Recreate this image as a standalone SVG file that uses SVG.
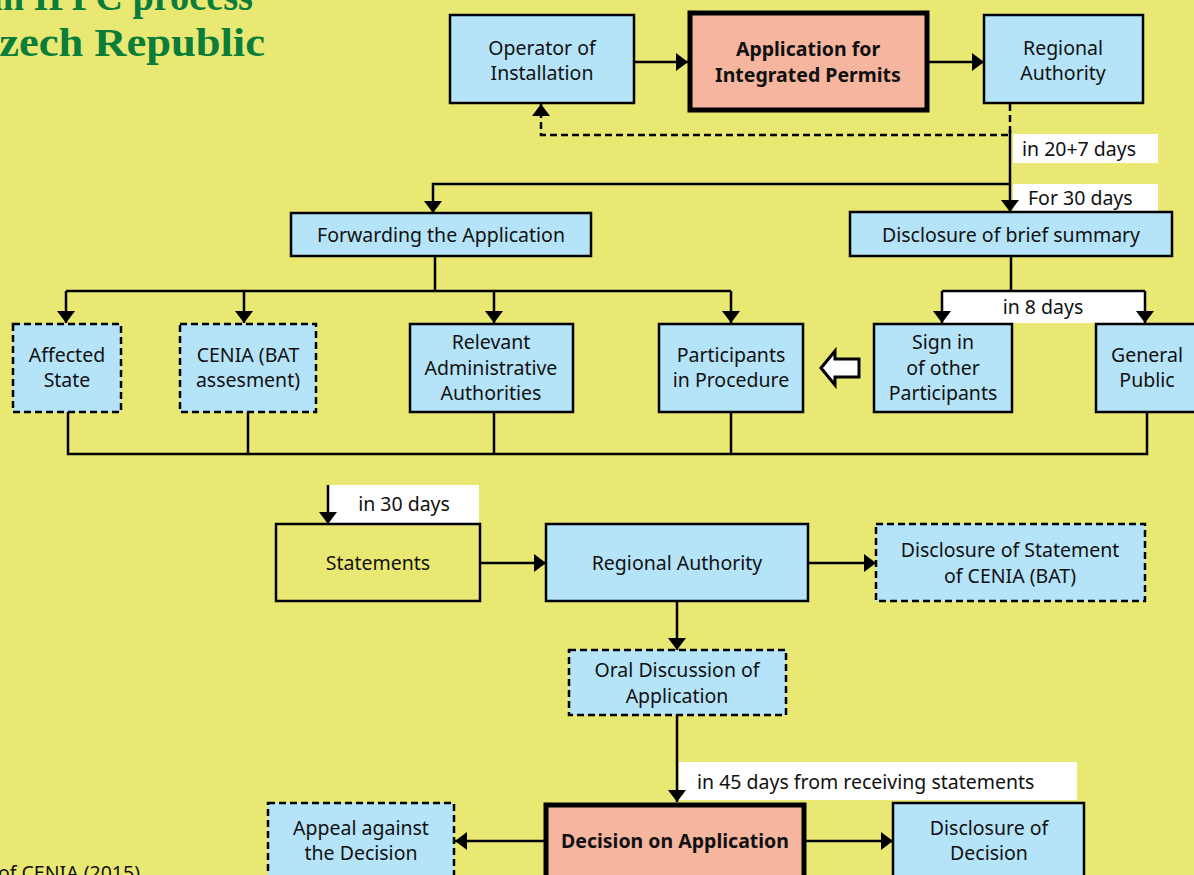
<svg xmlns="http://www.w3.org/2000/svg" width="1194" height="875" viewBox="0 0 1194 875">
<defs>
<marker id="ah" viewBox="0 0 12 18" refX="12" refY="9" markerWidth="12" markerHeight="18" markerUnits="userSpaceOnUse" orient="auto"><path d="M0,0 L12,9 L0,18 z" fill="#000"/></marker>
<style>
.bg{fill:#e9e872}
.box{fill:#b5e3f8;stroke:#000;stroke-width:2.5}
.dbox{fill:#b5e3f8;stroke:#000;stroke-width:2.5;stroke-dasharray:7 4}
.hbox{fill:#f5b59e;stroke:#000;stroke-width:5}
.obox{fill:none;stroke:#000;stroke-width:2.5}
.t{font-family:"Noto Sans","Open Sans",sans-serif;font-size:19.5px;fill:#111;text-anchor:middle}
.b{font-weight:bold}
.lt{font-family:"Noto Sans","Open Sans",sans-serif;font-size:19.5px;fill:#111}
.lab{fill:#fff}
.ln{fill:none;stroke:#000;stroke-width:2.5}
.dl{fill:none;stroke:#000;stroke-width:2.5;stroke-dasharray:7 4}
.title{font-family:"Liberation Serif","DejaVu Serif",serif;font-weight:bold;font-size:39px;fill:#0b7d3b}
</style>
</defs>
<rect class="bg" x="0" y="0" width="1194" height="875"/>
<g id="title">
<text class="title" x="-8" y="10" textLength="261" lengthAdjust="spacingAndGlyphs">in IPPC process</text>
<text class="title" x="-33" y="56" textLength="298" lengthAdjust="spacingAndGlyphs">Czech Republic</text>
</g>
<g id="source"><text class="lt" x="140" y="880" text-anchor="end" style="text-anchor:end">of CENIA (2015)</text></g>

<g id="labels">
<rect class="lab" x="1013" y="134" width="145" height="29"/>
<text class="lt" x="1022" y="156">in 20+7 days</text>
<rect class="lab" x="1013" y="184" width="145" height="27"/>
<text class="lt" x="1028" y="205">For 30 days</text>
<rect class="lab" x="942" y="291" width="203" height="32"/>
<text class="t" x="1043" y="314">in 8 days</text>
<rect class="lab" x="329" y="485" width="150" height="40"/>
<text class="t" x="404" y="511">in 30 days</text>
<rect class="lab" x="679" y="762" width="398" height="38"/>
<text class="lt" x="697" y="789">in 45 days from receiving statements</text>
</g>

<g id="connectors">
<path class="ln" d="M634,62 H688" marker-end="url(#ah)"/>
<path class="ln" d="M928,62 H984" marker-end="url(#ah)"/>
<path class="dl" d="M1010,104 V135 H541 V104" marker-end="url(#ah)"/>
<path class="ln" d="M1010,130 V212" marker-end="url(#ah)"/>
<path class="ln" d="M1010,184 H433 V213" marker-end="url(#ah)"/>
<path class="ln" d="M435,256 V291"/>
<path class="ln" d="M66,291 H731"/>
<path class="ln" d="M66,291 V323" marker-end="url(#ah)"/>
<path class="ln" d="M244,291 V323" marker-end="url(#ah)"/>
<path class="ln" d="M494,291 V323" marker-end="url(#ah)"/>
<path class="ln" d="M731,291 V323" marker-end="url(#ah)"/>
<path class="ln" d="M1011,256 V291"/>
<path class="ln" d="M942,291 H1145"/>
<path class="ln" d="M942,291 V323" marker-end="url(#ah)"/>
<path class="ln" d="M1145,291 V323" marker-end="url(#ah)"/>
<path class="ln" d="M68,412 V454 H1147 V412"/>
<path class="ln" d="M248,412 V454"/>
<path class="ln" d="M494,412 V454"/>
<path class="ln" d="M731,412 V454"/>
<path d="M821,368 L835,351 L835,359 L859,359 L859,377 L835,377 L835,385 Z" fill="#fff" stroke="#000" stroke-width="3" stroke-linejoin="miter"/>
<path class="ln" d="M328,485 V524" marker-end="url(#ah)"/>
<path class="ln" d="M480,563 H546" marker-end="url(#ah)"/>
<path class="ln" d="M808,563 H876" marker-end="url(#ah)"/>
<path class="ln" d="M677,601 V650" marker-end="url(#ah)"/>
<path class="ln" d="M677,715 V802" marker-end="url(#ah)"/>
<path class="ln" d="M544,841 H455" marker-end="url(#ah)"/>
<path class="ln" d="M806,841 H893" marker-end="url(#ah)"/>
</g>

<g id="operator"><rect class="box" x="450" y="15" width="184" height="88"/><text class="t" x="542" y="55">Operator of</text><text class="t" x="542" y="80">Installation</text></g>
<g id="application"><rect class="hbox" x="690" y="13" width="237" height="97"/><text class="t b" x="808" y="56">Application for</text><text class="t b" x="808" y="82">Integrated Permits</text></g>
<g id="regional"><rect class="box" x="984" y="15" width="159" height="88"/><text class="t" x="1063" y="55">Regional</text><text class="t" x="1063" y="80">Authority</text></g>
<g id="forwarding"><rect class="box" x="291" y="213" width="300" height="43"/><text class="t" x="441" y="242">Forwarding the Application</text></g>
<g id="disclosure-brief"><rect class="box" x="850" y="212" width="322" height="44"/><text class="t" x="1011" y="242">Disclosure of brief summary</text></g>
<g id="affected"><rect class="dbox" x="13" y="324" width="108" height="88"/><text class="t" x="67" y="362">Affected</text><text class="t" x="67" y="387">State</text></g>
<g id="cenia"><rect class="dbox" x="180" y="324" width="136" height="88"/><text class="t" x="248" y="362">CENIA (BAT</text><text class="t" x="248" y="387">assesment)</text></g>
<g id="relevant"><rect class="box" x="410" y="324" width="163" height="88"/><text class="t" x="491" y="349">Relevant</text><text class="t" x="491" y="375">Administrative</text><text class="t" x="491" y="400">Authorities</text></g>
<g id="participants"><rect class="box" x="659" y="324" width="144" height="88"/><text class="t" x="731" y="362">Participants</text><text class="t" x="731" y="387">in Procedure</text></g>
<g id="signin"><rect class="box" x="874" y="324" width="138" height="88"/><text class="t" x="943" y="349">Sign in</text><text class="t" x="943" y="375">of other</text><text class="t" x="943" y="400">Participants</text></g>
<g id="public"><rect class="box" x="1096" y="324" width="110" height="88"/><text class="t" x="1147" y="362">General</text><text class="t" x="1147" y="387">Public</text></g>
<g id="statements"><rect class="obox" x="276" y="524" width="204" height="77"/><text class="t" x="378" y="570">Statements</text></g>
<g id="regional2"><rect class="box" x="546" y="524" width="262" height="77"/><text class="t" x="677" y="570">Regional Authority</text></g>
<g id="disclosure-statement"><rect class="dbox" x="876" y="524" width="269" height="77"/><text class="t" x="1010" y="557">Disclosure of Statement</text><text class="t" x="1010" y="583">of CENIA (BAT)</text></g>
<g id="oral"><rect class="dbox" x="569" y="650" width="217" height="65"/><text class="t" x="677" y="677">Oral Discussion of</text><text class="t" x="677" y="703">Application</text></g>
<g id="appeal"><rect class="dbox" x="268" y="803" width="186" height="90"/><text class="t" x="361" y="835">Appeal against</text><text class="t" x="361" y="860">the Decision</text></g>
<g id="decision"><rect class="hbox" x="546" y="805" width="258" height="90"/><text class="t b" x="675" y="848">Decision on Application</text></g>
<g id="disclosure-decision"><rect class="box" x="893" y="803" width="191" height="90"/><text class="t" x="989" y="835">Disclosure of</text><text class="t" x="989" y="860">Decision</text></g>
</svg>
